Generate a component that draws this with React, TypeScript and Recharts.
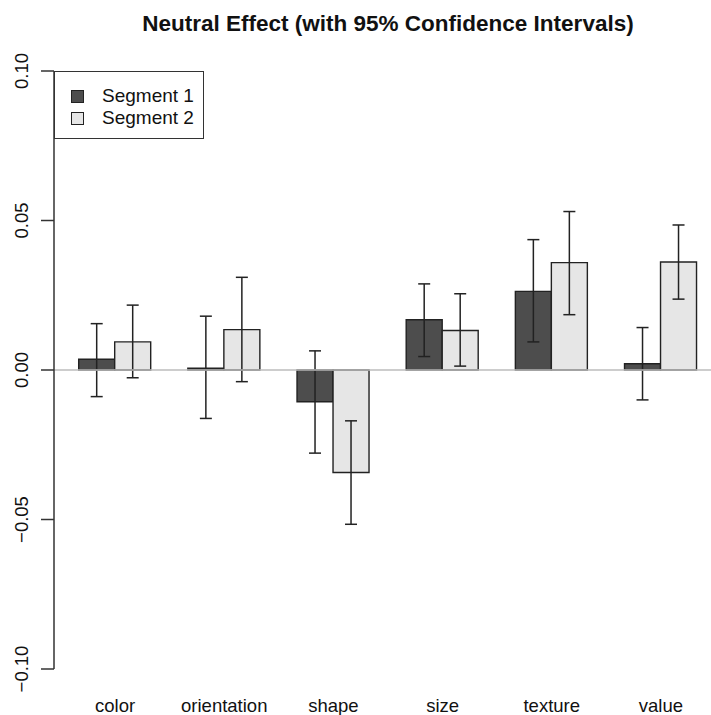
import React from 'react';
import { BarChart, Bar, XAxis, YAxis, ErrorBar, ReferenceLine, Legend } from 'recharts';

const categories = ['color', 'orientation', 'shape', 'size', 'texture', 'value'];
const seg1 = [0.0036, 0.0006, -0.0106, 0.0168, 0.0263, 0.0021];
const seg1Lower = [-0.0089, -0.0162, -0.0278, 0.0045, 0.0094, -0.0100];
const seg1Upper = [0.0155, 0.0180, 0.0064, 0.0288, 0.0436, 0.0142];
const seg2 = [0.0094, 0.0135, -0.0343, 0.0132, 0.0359, 0.0361];
const seg2Lower = [-0.0026, -0.0039, -0.0516, 0.0013, 0.0185, 0.0237];
const seg2Upper = [0.0217, 0.0310, -0.0170, 0.0255, 0.0530, 0.0485];
const yTicks = [-0.1, -0.05, 0, 0.05, 0.1];
const seriesNames = ['Segment 1', 'Segment 2'];

const data = categories.map((c, i) => ({
  name: c,
  s1: seg1[i],
  s2: seg2[i],
  e1: [seg1[i] - seg1Lower[i], seg1Upper[i] - seg1[i]],
  e2: [seg2[i] - seg2Lower[i], seg2Upper[i] - seg2[i]],
}));

const FONT = '"Liberation Sans", Arial, Helvetica, sans-serif';
const DARK = '#4d4d4d';
const LIGHT = '#e6e6e6';
const EDGE = '#222';

const fmt = (v: number) => (v < 0 ? '\u2212' : '') + Math.abs(v).toFixed(2);

const YTick = (props: any) => {
  const { x, y, payload } = props;
  const tx = x - 13;
  return (
    <text
      x={tx}
      y={y}
      transform={`rotate(-90, ${tx}, ${y})`}
      textAnchor="middle"
      fontSize={18.5}
      fontFamily={FONT}
      fill="#111"
    >
      {fmt(payload.value)}
    </text>
  );
};

const LegendBox = () => (
  <div
    style={{
      border: '1.5px solid #333',
      width: 148,
      height: 66,
      boxSizing: 'content-box',
      background: '#fff',
      fontFamily: FONT,
      fontSize: 19,
      color: '#111',
      position: 'relative',
    }}
  >
    {seriesNames.map((n, i) => (
      <div key={n} style={{ position: 'absolute', left: 16, top: 14 + i * 22, height: 20, display: 'flex', alignItems: 'center' }}>
        <span
          style={{
            display: 'inline-block',
            width: 11,
            height: 11,
            border: '1.3px solid #222',
            background: i === 0 ? DARK : LIGHT,
            marginRight: 18,
          }}
        />
        <span style={{ lineHeight: '20px' }}>{n}</span>
      </div>
    ))}
  </div>
);

export default function App() {
  return (
    <div style={{ position: 'fixed', left: 0, top: 0, width: 711, height: 715, overflow: 'hidden', background: '#fff' }}>
      <div
        style={{
          position: 'absolute',
          left: 54,
          width: 668,
          top: 13,
          textAlign: 'center',
          fontFamily: FONT,
          fontWeight: 'bold',
          fontSize: 22.5,
          lineHeight: '22px',
          color: '#111',
        }}
      >
        Neutral Effect (with 95% Confidence Intervals)
      </div>
      <div style={{ position: 'absolute', left: 0, top: 0 }}>
        <BarChart
          width={722}
          height={715}
          data={data}
          margin={{ top: 71, right: 0, bottom: 0, left: 0 }}
          barGap={0}
          barCategoryGap="16.667%"
        >
          <XAxis
            dataKey="name"
            axisLine={false}
            tickLine={false}
            tickSize={0}
            tickMargin={30}
            height={46}
            padding={{ left: 6.5, right: 6.5 }}
            interval={0}
            tick={{ fontSize: 18.5, fontFamily: FONT, fill: '#111' }}
          />
          <YAxis
            width={54}
            domain={[-0.1, 0.1]}
            ticks={yTicks}
            allowDataOverflow
            axisLine={{ stroke: '#333', strokeWidth: 1.5 }}
            tickLine={{ stroke: '#333', strokeWidth: 1.5 }}
            tickSize={13}
            tickMargin={0}
            tick={<YTick />}
          />
          <Legend
            layout="vertical"
            verticalAlign="middle"
            align="center"
            content={<LegendBox />}
            wrapperStyle={{ left: 54, top: 71, width: 'auto', height: 'auto' }}
          />
          <Bar dataKey="s1" name={seriesNames[0]} fill={DARK} stroke={EDGE} strokeWidth={1.4} isAnimationActive={false}>
            <ErrorBar dataKey="e1" width={6} stroke="#222" strokeWidth={1.5} direction="y" />
          </Bar>
          <Bar dataKey="s2" name={seriesNames[1]} fill={LIGHT} stroke={EDGE} strokeWidth={1.4} isAnimationActive={false}>
            <ErrorBar dataKey="e2" width={6} stroke="#222" strokeWidth={1.5} direction="y" />
          </Bar>
          <ReferenceLine y={0} stroke="#bdbdbd" strokeWidth={1.5} ifOverflow="extendDomain" />
        </BarChart>
      </div>
    </div>
  );
}
